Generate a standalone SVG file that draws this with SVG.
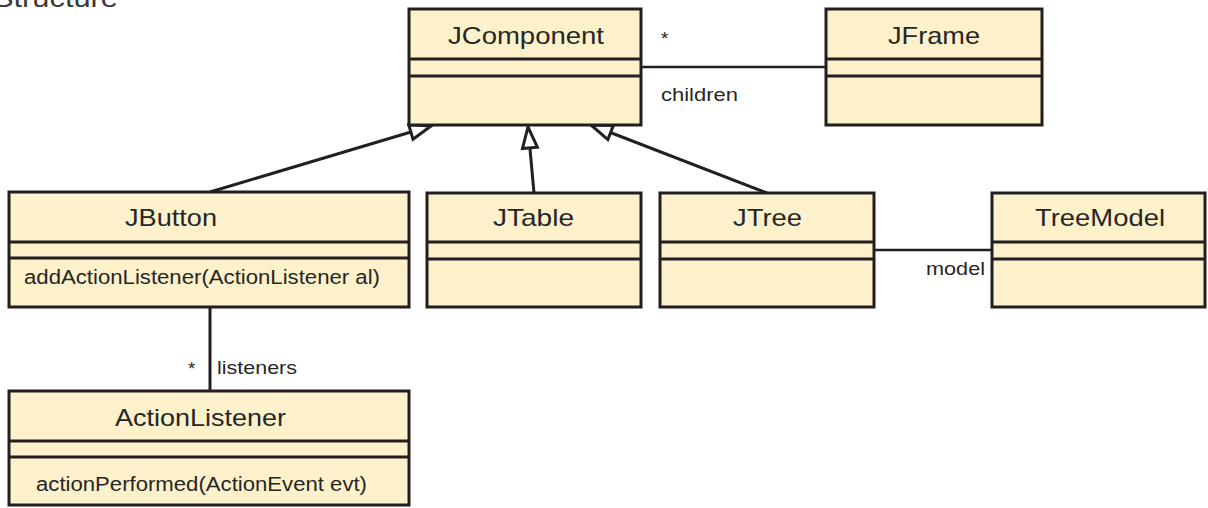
<svg xmlns="http://www.w3.org/2000/svg" width="1208" height="508" viewBox="0 0 1208 508">
  <style>
    .box { fill: #FDF1CB; stroke: #231F20; stroke-width: 3; }
    .div { stroke: #231F20; stroke-width: 3; }
    .name { font-family: "Liberation Sans", Arial, sans-serif; font-size: 24px; fill: #262626; }
    .op { font-family: "Liberation Sans", Arial, sans-serif; font-size: 20px; fill: #262626; }
    .lbl { font-family: "Liberation Sans", Arial, sans-serif; font-size: 19px; fill: #262626; }
    .conn { stroke: #231F20; stroke-width: 3; fill: none; }
    .assoc { stroke: #231F20; stroke-width: 2.5; fill: none; }
  </style>
  <defs>
    <marker id="gen" markerUnits="userSpaceOnUse" markerWidth="30" markerHeight="24" refX="21" refY="7.5" orient="auto" overflow="visible">
      <path d="M0,0 L21,7.5 L0,15 z" fill="#FFFFFF" stroke="#231F20" stroke-width="3" stroke-linejoin="miter"/>
    </marker>
  </defs>
  <rect width="1208" height="508" fill="#FFFFFF"/>

  <text x="-7" y="7" font-family="Liberation Sans, Arial, sans-serif" font-size="26" fill="#3A3A3A" textLength="125" lengthAdjust="spacingAndGlyphs">Structure</text>

  <g id="connectors">
    <line class="conn" x1="210" y1="192" x2="431" y2="126" marker-end="url(#gen)"/>
    <line class="conn" x1="534" y1="193" x2="528" y2="127" marker-end="url(#gen)"/>
    <line class="conn" x1="767" y1="193" x2="591" y2="125" marker-end="url(#gen)"/>
    <line class="assoc" x1="641" y1="67" x2="826" y2="67"/>
    <line class="assoc" x1="874" y1="250" x2="992" y2="250"/>
    <line class="conn" x1="210" y1="307" x2="210" y2="391"/>
    <text class="lbl" x="661" y="45">*</text>
    <text class="lbl" x="661" y="101" textLength="77" lengthAdjust="spacingAndGlyphs">children</text>
    <text class="lbl" x="985" y="275" text-anchor="end" textLength="59" lengthAdjust="spacingAndGlyphs">model</text>
    <text class="lbl" x="188" y="375">*</text>
    <text class="lbl" x="217" y="374" textLength="80" lengthAdjust="spacingAndGlyphs">listeners</text>
  </g>

  <g id="JComponent">
    <rect class="box" x="409" y="9" width="232" height="116"/>
    <line class="div" x1="409" y1="59" x2="641" y2="59"/>
    <line class="div" x1="409" y1="76" x2="641" y2="76"/>
    <text class="name" x="448" y="44" textLength="156" lengthAdjust="spacingAndGlyphs">JComponent</text>
  </g>

  <g id="JFrame">
    <rect class="box" x="826" y="9" width="216" height="116"/>
    <line class="div" x1="826" y1="59" x2="1042" y2="59"/>
    <line class="div" x1="826" y1="76" x2="1042" y2="76"/>
    <text class="name" x="888" y="44" textLength="92" lengthAdjust="spacingAndGlyphs">JFrame</text>
  </g>

  <g id="JButton">
    <rect class="box" x="9" y="192" width="400" height="115"/>
    <line class="div" x1="9" y1="242" x2="409" y2="242"/>
    <line class="div" x1="9" y1="258" x2="409" y2="258"/>
    <text class="name" x="125" y="226" textLength="92" lengthAdjust="spacingAndGlyphs">JButton</text>
    <text class="op" x="24" y="284" textLength="356" lengthAdjust="spacingAndGlyphs">addActionListener(ActionListener al)</text>
  </g>

  <g id="JTable">
    <rect class="box" x="427" y="193" width="214" height="114"/>
    <line class="div" x1="427" y1="242" x2="641" y2="242"/>
    <line class="div" x1="427" y1="259" x2="641" y2="259"/>
    <text class="name" x="493" y="226" textLength="81" lengthAdjust="spacingAndGlyphs">JTable</text>
  </g>

  <g id="JTree">
    <rect class="box" x="660" y="193" width="214" height="114"/>
    <line class="div" x1="660" y1="242" x2="874" y2="242"/>
    <line class="div" x1="660" y1="259" x2="874" y2="259"/>
    <text class="name" x="733" y="226" textLength="69" lengthAdjust="spacingAndGlyphs">JTree</text>
  </g>

  <g id="TreeModel">
    <rect class="box" x="992" y="193" width="213" height="114"/>
    <line class="div" x1="992" y1="242" x2="1205" y2="242"/>
    <line class="div" x1="992" y1="259" x2="1205" y2="259"/>
    <text class="name" x="1035" y="226" textLength="130" lengthAdjust="spacingAndGlyphs">TreeModel</text>
  </g>

  <g id="ActionListener">
    <rect class="box" x="9" y="391" width="400" height="114"/>
    <line class="div" x1="9" y1="441" x2="409" y2="441"/>
    <line class="div" x1="9" y1="457" x2="409" y2="457"/>
    <text class="name" x="115" y="426" textLength="171" lengthAdjust="spacingAndGlyphs">ActionListener</text>
    <text class="op" x="36" y="491" textLength="331" lengthAdjust="spacingAndGlyphs">actionPerformed(ActionEvent evt)</text>
  </g>
</svg>
